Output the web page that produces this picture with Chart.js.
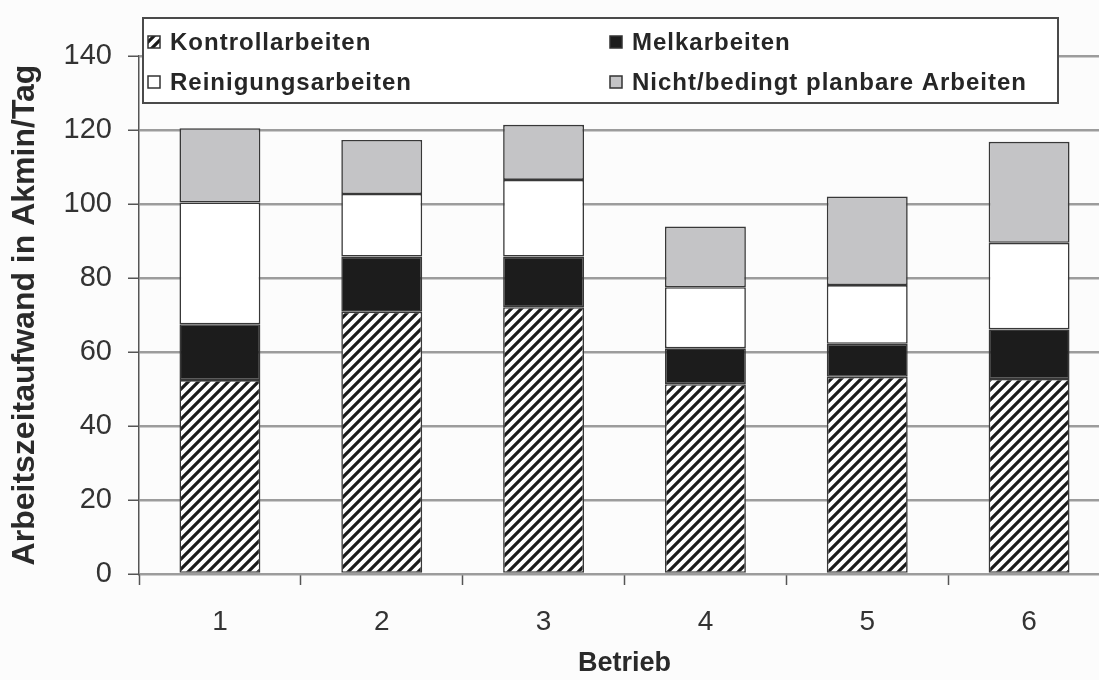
<!DOCTYPE html>
<html lang="de">
<head>
<meta charset="utf-8">
<title>Arbeitszeitaufwand je Betrieb</title>
<script src="https://cdn.jsdelivr.net/npm/chart.js@4.4.1/dist/chart.umd.min.js"></script>
<style>
  html, body { margin: 0; padding: 0; background: #fcfcfc; overflow: hidden; }
  #chart { display: block; }
</style>
</head>
<body>
<canvas id="chart" width="1110" height="680"></canvas>
<script>
// Daten (Akmin/Tag)
const betriebe = ['1', '2', '3', '4', '5', '6'];
const kontrollarbeiten = [52.4, 70.9, 72.1, 51.3, 53.3, 52.7];
const melkarbeiten = [15.1, 14.9, 13.7, 9.7, 8.9, 13.4];
const reinigungsarbeiten = [32.9, 16.9, 20.7, 16.5, 15.9, 23.4];
const nichtPlanbar = [20.1, 14.6, 14.9, 16.4, 23.9, 27.3];
const yMax = 140;
const yStep = 20;

const fontFamily = '"Liberation Sans", Arial, Helvetica, sans-serif';
const canvas = document.getElementById('chart');
const ctx = canvas.getContext('2d');

// Schraffur fuer Kontrollarbeiten
function makeHatch() {
    const size = 10;
    const tile = document.createElement('canvas');
    tile.width = size;
    tile.height = size;
    const g = tile.getContext('2d');
    g.fillStyle = '#ffffff';
    g.fillRect(0, 0, size, size);
    g.strokeStyle = '#1a1a1a';
    g.lineWidth = 3.2;
    g.beginPath();
    g.moveTo(-1, size + 1); g.lineTo(size + 1, -1);
    g.moveTo(-size / 2 - 1, size / 2 + 1); g.lineTo(size / 2 + 1, -size / 2 - 1);
    g.moveTo(size / 2 - 1, size * 1.5 + 1); g.lineTo(size * 1.5 + 1, size / 2 - 1);
    g.stroke();
    return ctx.createPattern(tile, 'repeat');
}

const hatch = makeHatch();

// Legende im Rahmen, zwei Spalten
const legendBox = {
    id: 'legendBox',
    afterDraw(chart) {
        const c = chart.ctx;
        const left = chart.chartArea.left + 4;
        const top = 18, right = 1058, bottom = 103;
        const cols = [148, 610];
        const rows = [42, 82];
        c.save();
        c.fillStyle = '#ffffff';
        c.fillRect(left, top, right - left, bottom - top);
        c.strokeStyle = '#4a4a4a';
        c.lineWidth = 2;
        c.strokeRect(left, top, right - left, bottom - top);
        c.font = 'bold 24px ' + fontFamily;
        c.letterSpacing = '1px';
        c.textBaseline = 'middle';
        chart.data.datasets.forEach((ds, i) => {
            const x = cols[i % 2];
            const y = rows[Math.floor(i / 2)];
            c.fillStyle = ds.backgroundColor;
            c.fillRect(x, y - 6, 12, 12);
            c.strokeStyle = '#333333';
            c.lineWidth = 1.5;
            c.strokeRect(x, y - 6, 12, 12);
            c.fillStyle = '#262626';
            c.fillText(ds.label, x + 22, y + 1);
        });
        c.restore();
    }
};

const barStyle = {
    borderColor: '#383838',
    borderWidth: 1.6,
    borderSkipped: false,
    barPercentage: 0.5,
    categoryPercentage: 1.0
};

new Chart(ctx, {
    type: 'bar',
    data: {
        labels: betriebe,
        datasets: [
            { label: 'Kontrollarbeiten', data: kontrollarbeiten, backgroundColor: hatch, ...barStyle },
            { label: 'Melkarbeiten', data: melkarbeiten, backgroundColor: '#1c1c1c', ...barStyle },
            { label: 'Reinigungsarbeiten', data: reinigungsarbeiten, backgroundColor: '#ffffff', ...barStyle },
            { label: 'Nicht/bedingt planbare Arbeiten', data: nichtPlanbar, backgroundColor: '#c4c4c6', ...barStyle }
        ]
    },
    options: {
        responsive: false,
        animation: false,
        devicePixelRatio: 1,
        layout: { padding: { top: 56, right: 0, bottom: 0, left: 0 } },
        plugins: {
            legend: { display: false },
            tooltip: { enabled: false }
        },
        scales: {
            x: {
                stacked: true,
                grid: {
                    display: true,
                    drawOnChartArea: false,
                    drawTicks: true,
                    tickLength: 11,
                    tickColor: '#555555',
                    tickWidth: 1.5,
                    offset: true
                },
                border: { display: false },
                ticks: {
                    color: '#333333',
                    font: { family: fontFamily, size: 28 },
                    padding: 20
                },
                title: {
                    display: true,
                    text: 'Betrieb',
                    color: '#2a2a2a',
                    font: { family: fontFamily, size: 27, weight: 'bold' },
                    padding: 0
                },
                afterFit(scale) { scale.height = 106; }
            },
            y: {
                stacked: true,
                min: 0,
                max: yMax,
                ticks: {
                    stepSize: yStep,
                    color: '#333333',
                    font: { family: fontFamily, size: 29 },
                    padding: 16
                },
                grid: {
                    color: '#9c9c9c',
                    lineWidth: 2.5,
                    tickColor: '#555555',
                    tickWidth: 1.5,
                    tickLength: 11
                },
                border: { color: '#555555', width: 1.5 },
                title: {
                    display: true,
                    text: 'Arbeitszeitaufwand in Akmin/Tag',
                    color: '#2a2a2a',
                    font: { family: fontFamily, size: 32, weight: 'bold' },
                    padding: { top: 6, bottom: 0 }
                },
                afterFit(scale) { scale.width = 139; }
            }
        }
    },
    plugins: [legendBox]
});
</script>
</body>
</html>
